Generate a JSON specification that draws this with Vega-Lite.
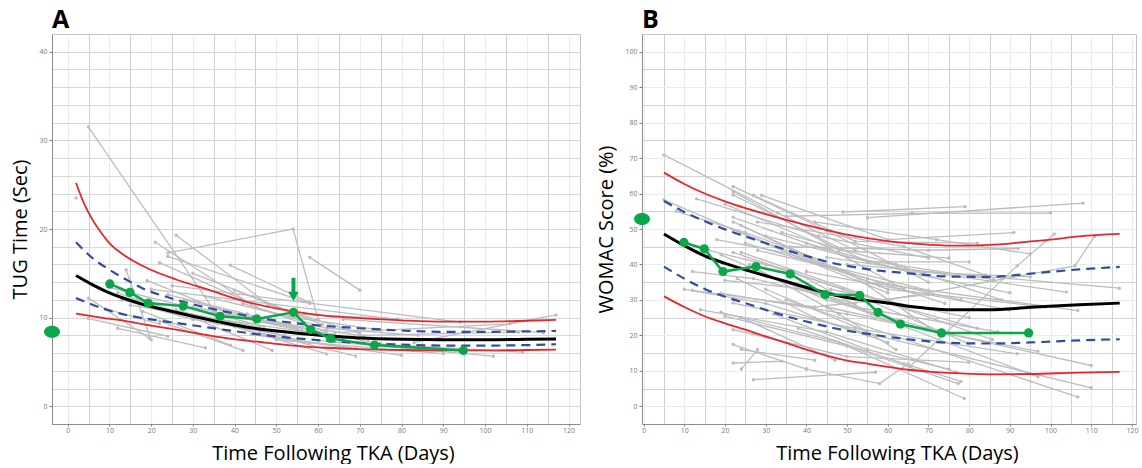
{
"$schema": "https://vega.github.io/schema/vega-lite/v6.json",
"padding": {"left": 10, "top": 7, "right": 0, "bottom": 0},
"spacing": 15,
"config": {
 "view": {"stroke": "#c4c4c4", "strokeWidth": 1},
 "axis": {"labelFont": "Open Sans", "labelFontSize": 7, "labelColor": "#7a7a7a", "tickColor": "#7a7a7a", "tickSize": 3, "labelPadding": 2, "domainColor": "#8c8c8c", "titleFont": "Open Sans", "titleFontWeight": "normal", "titleColor": "#000000", "titleFontSize": 20},
 "title": {"font": "Open Sans", "fontWeight": "bold", "fontSize": 25, "anchor": "start", "frame": "group", "baseline": "alphabetic", "offset": 1, "color": "#000000"}
},
"datasets": {
 "grayA": [
  {"id":"A1","x":5,"y":31.5},{"id":"A1","x":36,"y":10.2},
  {"id":"A2","x":2,"y":23.5},
  {"id":"A3","x":24,"y":17.3},{"id":"A3","x":54,"y":20},{"id":"A3","x":60,"y":9.8},
  {"id":"A4","x":26,"y":19.3},{"id":"A4","x":48,"y":11.5},{"id":"A4","x":70,"y":8.2},
  {"id":"A5","x":58,"y":16.8},{"id":"A5","x":70,"y":13.1},
  {"id":"A6","x":21,"y":18.5},{"id":"A6","x":45,"y":11.2},{"id":"A6","x":62,"y":8.4},
  {"id":"A7","x":39,"y":15.9},{"id":"A7","x":58,"y":11.7},
  {"id":"A8","x":30,"y":15.0},{"id":"A8","x":55,"y":10.4},{"id":"A8","x":79,"y":9.85},
  {"id":"A9","x":14,"y":15.4},{"id":"A9","x":20,"y":7.5},
  {"id":"A10","x":5,"y":12.2},{"id":"A10","x":19.5,"y":7.7},
  {"id":"A11","x":5,"y":9.9},{"id":"A11","x":24,"y":7.9},
  {"id":"A12","x":24,"y":16.9},{"id":"A12","x":58,"y":11.6},
  {"id":"A13","x":12,"y":8.8},{"id":"A13","x":33,"y":6.6},
  {"id":"A14","x":22,"y":9.6},{"id":"A14","x":42,"y":6.3},
  {"id":"A15","x":28,"y":10.4},{"id":"A15","x":49,"y":6.3},
  {"id":"A16","x":40,"y":9.0},{"id":"A16","x":62,"y":5.9},
  {"id":"A17","x":46,"y":8.3},{"id":"A17","x":69,"y":5.65},
  {"id":"A18","x":83,"y":7.2},{"id":"A18","x":117,"y":10.3},
  {"id":"A19","x":20,"y":13.2},{"id":"A19","x":79,"y":9.8},
  {"id":"A20","x":25,"y":13.6},{"id":"A20","x":94,"y":9.5},
  {"id":"A21","x":64,"y":8.3},{"id":"A21","x":106,"y":9.3},
  {"id":"A22","x":70,"y":8.0},{"id":"A22","x":108,"y":8.35},
  {"id":"A23","x":60,"y":7.4},{"id":"A23","x":102,"y":5.65},
  {"id":"A24","x":75,"y":7.0},{"id":"A24","x":109,"y":6.1},
  {"id":"A25","x":50,"y":7.5},{"id":"A25","x":90,"y":5.95},
  {"id":"A26","x":44,"y":8.1},{"id":"A26","x":80,"y":5.75},
  {"id":"A27","x":66,"y":9.8},{"id":"A27","x":114,"y":8.3},
  {"id":"A28","x":40,"y":13.1},{"id":"A28","x":61,"y":9.2},
  {"id":"A29","x":19,"y":14.2},{"id":"A29","x":38,"y":10.6},{"id":"A29","x":55,"y":8.8},
  {"id":"A30","x":13,"y":12.0},{"id":"A30","x":30,"y":9.8},{"id":"A30","x":52,"y":8.0},
  {"id":"A31","x":17,"y":12.0},{"id":"A31","x":36,"y":9.3},
  {"id":"A32","x":22,"y":16.2},{"id":"A32","x":44,"y":11.6},
  {"id":"A33","x":10,"y":13.4},{"id":"A33","x":28,"y":11.3},{"id":"A33","x":47,"y":9.0},
  {"id":"A34","x":15,"y":11.4},{"id":"A34","x":32,"y":10.1},{"id":"A34","x":60,"y":8.2},
  {"id":"A35","x":18,"y":10.7},{"id":"A35","x":39,"y":6.9},
  {"id":"A36","x":24,"y":12.6},{"id":"A36","x":43,"y":10.4},{"id":"A36","x":66,"y":7.7},
  {"id":"A37","x":28,"y":12.0},{"id":"A37","x":50,"y":9.4},{"id":"A37","x":72,"y":7.3},
  {"id":"A38","x":30,"y":11.2},{"id":"A38","x":56,"y":8.6},
  {"id":"A39","x":33,"y":12.4},{"id":"A39","x":53,"y":10.1},{"id":"A39","x":75,"y":8.6},
  {"id":"A40","x":35,"y":10.6},{"id":"A40","x":64,"y":7.8},
  {"id":"A41","x":20,"y":11.3},{"id":"A41","x":46,"y":8.9},
  {"id":"A42","x":26,"y":10.9},{"id":"A42","x":47,"y":8.0},{"id":"A42","x":69,"y":6.5},
  {"id":"A43","x":12,"y":12.8},{"id":"A43","x":25,"y":10.6},
  {"id":"A44","x":9,"y":11.0},{"id":"A44","x":22,"y":9.3},
  {"id":"A45","x":36,"y":9.9},{"id":"A45","x":58,"y":7.1},
  {"id":"A46","x":42,"y":11.6},{"id":"A46","x":62,"y":8.8},{"id":"A46","x":84,"y":8.0},
  {"id":"A47","x":48,"y":9.6},{"id":"A47","x":71,"y":7.9}
 ],
 "redA": [
  {"b":"hi","x":2,"y":25.2},{"b":"hi","x":4,"y":22.8},{"b":"hi","x":6,"y":21.0},{"b":"hi","x":8,"y":19.6},{"b":"hi","x":10,"y":18.4},{"b":"hi","x":14,"y":16.9},{"b":"hi","x":19,"y":15.6},{"b":"hi","x":26,"y":14.3},{"b":"hi","x":34,"y":13.1},{"b":"hi","x":42,"y":11.9},{"b":"hi","x":54,"y":10.7},{"b":"hi","x":62,"y":10.2},{"b":"hi","x":70,"y":9.95},{"b":"hi","x":80,"y":9.7},{"b":"hi","x":90,"y":9.55},{"b":"hi","x":100,"y":9.55},{"b":"hi","x":110,"y":9.65},{"b":"hi","x":117,"y":9.75},
  {"b":"lo","x":2,"y":10.45},{"b":"lo","x":8,"y":10.0},{"b":"lo","x":14,"y":9.6},{"b":"lo","x":20,"y":9.1},{"b":"lo","x":26,"y":8.65},{"b":"lo","x":32,"y":8.15},{"b":"lo","x":38,"y":7.7},{"b":"lo","x":46,"y":7.25},{"b":"lo","x":54,"y":6.85},{"b":"lo","x":62,"y":6.6},{"b":"lo","x":70,"y":6.45},{"b":"lo","x":80,"y":6.35},{"b":"lo","x":90,"y":6.3},{"b":"lo","x":100,"y":6.3},{"b":"lo","x":110,"y":6.35},{"b":"lo","x":117,"y":6.4}
 ],
 "blueA": [
  {"b":"hi","x":2,"y":18.5},{"b":"hi","x":6,"y":16.7},{"b":"hi","x":10,"y":15.4},{"b":"hi","x":14,"y":14.3},{"b":"hi","x":18,"y":13.3},{"b":"hi","x":24,"y":12.3},{"b":"hi","x":30,"y":11.5},{"b":"hi","x":36,"y":10.85},{"b":"hi","x":42,"y":10.3},{"b":"hi","x":48,"y":9.8},{"b":"hi","x":54,"y":9.4},{"b":"hi","x":62,"y":9.05},{"b":"hi","x":70,"y":8.8},{"b":"hi","x":80,"y":8.55},{"b":"hi","x":90,"y":8.4},{"b":"hi","x":100,"y":8.4},{"b":"hi","x":110,"y":8.45},{"b":"hi","x":117,"y":8.5},
  {"b":"lo","x":2,"y":12.2},{"b":"lo","x":8,"y":11.1},{"b":"lo","x":14,"y":10.3},{"b":"lo","x":20,"y":9.8},{"b":"lo","x":26,"y":9.4},{"b":"lo","x":32,"y":9.0},{"b":"lo","x":38,"y":8.6},{"b":"lo","x":46,"y":8.1},{"b":"lo","x":54,"y":7.7},{"b":"lo","x":62,"y":7.4},{"b":"lo","x":70,"y":7.15},{"b":"lo","x":80,"y":6.95},{"b":"lo","x":90,"y":6.85},{"b":"lo","x":100,"y":6.85},{"b":"lo","x":110,"y":6.9},{"b":"lo","x":117,"y":7.0}
 ],
 "blackA": [
  {"x":2,"y":14.75},{"x":6,"y":13.7},{"x":10,"y":12.8},{"x":14,"y":12.1},{"x":18,"y":11.5},{"x":24,"y":10.8},{"x":30,"y":10.15},{"x":36,"y":9.55},{"x":42,"y":9.0},{"x":48,"y":8.6},{"x":54,"y":8.3},{"x":62,"y":7.95},{"x":70,"y":7.7},{"x":80,"y":7.55},{"x":90,"y":7.5},{"x":100,"y":7.5},{"x":110,"y":7.55},{"x":117,"y":7.6}
 ],
 "greenA": [
  {"x":10.1,"y":13.8},{"x":14.9,"y":12.85},{"x":19.3,"y":11.65},{"x":27.7,"y":11.3},{"x":36.5,"y":10.15},{"x":45.3,"y":9.85},{"x":54.1,"y":10.6},{"x":58.2,"y":8.65},{"x":63,"y":7.65},{"x":73.5,"y":6.9},{"x":94.8,"y":6.3}
 ],
 "baseA": [{"x":-3.75,"y":8.4}],
 "arrowA": [{"x":54.1,"y":14.5,"y2":12.8}],
 "headA": [{"x":54.1,"y":12.4}],
 "grayB": [
  {"id":"B1","x":5,"y":70.9},{"id":"B1","x":33,"y":54.5},{"id":"B1","x":52,"y":44},
  {"id":"B2","x":5,"y":58.2},{"id":"B2","x":38,"y":42},{"id":"B2","x":60,"y":32},
  {"id":"B3","x":13,"y":58.5},{"id":"B3","x":43,"y":48},{"id":"B3","x":70,"y":41.8},
  {"id":"B4","x":22,"y":62},{"id":"B4","x":45,"y":49.5},{"id":"B4","x":70,"y":35},
  {"id":"B5","x":22,"y":60.5},{"id":"B5","x":48,"y":44},{"id":"B5","x":75,"y":41.8},
  {"id":"B6","x":22,"y":59.6},{"id":"B6","x":55,"y":40.7},{"id":"B6","x":80,"y":40.7},
  {"id":"B7","x":27,"y":59.5},{"id":"B7","x":52,"y":46.5},{"id":"B7","x":82,"y":46},
  {"id":"B8","x":29,"y":59.5},{"id":"B8","x":60,"y":47},{"id":"B8","x":91,"y":49},
  {"id":"B9","x":49,"y":54.8},{"id":"B9","x":79,"y":56.3},
  {"id":"B10","x":55,"y":53.2},{"id":"B10","x":108,"y":57.3},
  {"id":"B11","x":35,"y":53.6},{"id":"B11","x":66,"y":54.4},{"id":"B11","x":100,"y":54.5},
  {"id":"B12","x":22,"y":53.3},{"id":"B12","x":50,"y":42},{"id":"B12","x":86,"y":35.7},
  {"id":"B13","x":22,"y":52},{"id":"B13","x":47,"y":39},{"id":"B13","x":74,"y":29},
  {"id":"B14","x":24,"y":51},{"id":"B14","x":44,"y":40},{"id":"B14","x":70,"y":32.7},
  {"id":"B15","x":22,"y":49.8},{"id":"B15","x":60,"y":33},{"id":"B15","x":98.7,"y":28},
  {"id":"B16","x":19,"y":42.7},{"id":"B16","x":45,"y":30},{"id":"B16","x":70,"y":22},
  {"id":"B17","x":22,"y":43.4},{"id":"B17","x":49,"y":33},{"id":"B17","x":80,"y":17.6},
  {"id":"B18","x":24,"y":43.4},{"id":"B18","x":58,"y":30},{"id":"B18","x":85.7,"y":18.8},
  {"id":"B19","x":19,"y":31.9},{"id":"B19","x":50,"y":26},{"id":"B19","x":96.9,"y":15.5},
  {"id":"B20","x":22,"y":29.1},{"id":"B20","x":52,"y":22},{"id":"B20","x":91.8,"y":14.8},
  {"id":"B21","x":14,"y":27.2},{"id":"B21","x":45,"y":21},{"id":"B21","x":76.8,"y":9.6},
  {"id":"B22","x":12,"y":32.7},{"id":"B22","x":42,"y":28},{"id":"B22","x":70,"y":31.5},
  {"id":"B23","x":19,"y":26.5},{"id":"B23","x":48,"y":18},{"id":"B23","x":78.8,"y":2.2},
  {"id":"B24","x":20,"y":25.4},{"id":"B24","x":50,"y":17},{"id":"B24","x":77.3,"y":6.4},
  {"id":"B25","x":22,"y":21.6},{"id":"B25","x":50,"y":14},{"id":"B25","x":79.9,"y":12.4},
  {"id":"B26","x":22,"y":17.4},{"id":"B26","x":40,"y":10.5},
  {"id":"B27","x":24,"y":16},{"id":"B27","x":42,"y":13},
  {"id":"B28","x":22,"y":12.2},{"id":"B28","x":34,"y":12.7},
  {"id":"B29","x":24,"y":10.5},{"id":"B29","x":28,"y":16},
  {"id":"B30","x":27,"y":7.5},{"id":"B30","x":57,"y":9.6},
  {"id":"B31","x":40,"y":10.5},{"id":"B31","x":58,"y":6.4},{"id":"B31","x":65,"y":12},
  {"id":"B32","x":65.5,"y":11.3},{"id":"B32","x":91.8,"y":39.6},{"id":"B32","x":100.9,"y":48.6},
  {"id":"B33","x":60,"y":30},{"id":"B33","x":106,"y":39.6},{"id":"B33","x":110.8,"y":47.9},
  {"id":"B34","x":50,"y":40},{"id":"B34","x":116.9,"y":33.3},
  {"id":"B35","x":45,"y":42},{"id":"B35","x":103.9,"y":32.2},
  {"id":"B36","x":55,"y":35},{"id":"B36","x":106.7,"y":27},
  {"id":"B37","x":40,"y":38},{"id":"B37","x":89.8,"y":27.2},
  {"id":"B38","x":35,"y":35},{"id":"B38","x":96.9,"y":8.3},
  {"id":"B39","x":45,"y":28},{"id":"B39","x":110,"y":11.5},
  {"id":"B40","x":50,"y":22},{"id":"B40","x":110,"y":5.2},
  {"id":"B41","x":35,"y":30},{"id":"B41","x":106.7,"y":2.6},
  {"id":"B42","x":30,"y":40},{"id":"B42","x":60,"y":29},{"id":"B42","x":82,"y":22},
  {"id":"B43","x":10,"y":33},{"id":"B43","x":30,"y":29},{"id":"B43","x":55,"y":20},
  {"id":"B44","x":30,"y":48},{"id":"B44","x":65,"y":38},{"id":"B44","x":95,"y":36.5},
  {"id":"B45","x":12,"y":38},{"id":"B45","x":27,"y":36},{"id":"B45","x":52,"y":29},
  {"id":"B46","x":20,"y":35.5},{"id":"B46","x":40,"y":33},{"id":"B46","x":62,"y":24},
  {"id":"B47","x":25,"y":46},{"id":"B47","x":55,"y":36},{"id":"B47","x":78,"y":30},
  {"id":"B48","x":18,"y":47},{"id":"B48","x":36,"y":43},{"id":"B48","x":58,"y":34},
  {"id":"B49","x":28,"y":44},{"id":"B49","x":50,"y":38},{"id":"B49","x":73,"y":20},
  {"id":"B50","x":34,"y":49},{"id":"B50","x":62,"y":40},{"id":"B50","x":88,"y":30},
  {"id":"B51","x":20,"y":57},{"id":"B51","x":45,"y":45},{"id":"B51","x":64,"y":33},
  {"id":"B52","x":8,"y":55},{"id":"B52","x":25,"y":49},{"id":"B52","x":44,"y":41},
  {"id":"B53","x":26,"y":40},{"id":"B53","x":48,"y":26},{"id":"B53","x":62,"y":16},
  {"id":"B54","x":32,"y":26},{"id":"B54","x":55,"y":16},{"id":"B54","x":75,"y":10.5},
  {"id":"B55","x":38,"y":22},{"id":"B55","x":64,"y":12},{"id":"B55","x":78,"y":7},
  {"id":"B56","x":23,"y":36},{"id":"B56","x":42,"y":25},{"id":"B56","x":60,"y":18},
  {"id":"B57","x":30,"y":33},{"id":"B57","x":57,"y":20},
  {"id":"B58","x":24,"y":25},{"id":"B58","x":47,"y":13},
  {"id":"B59","x":36,"y":45},{"id":"B59","x":70,"y":44},{"id":"B59","x":92,"y":44.5},
  {"id":"B60","x":42,"y":52},{"id":"B60","x":72,"y":47},{"id":"B60","x":95,"y":43},
  {"id":"B61","x":16,"y":44},{"id":"B61","x":37,"y":38},{"id":"B61","x":56,"y":26},
  {"id":"B62","x":46,"y":33},{"id":"B62","x":80,"y":25},
  {"id":"B63","x":52,"y":28},{"id":"B63","x":87,"y":21},
  {"id":"B64","x":28,"y":52},{"id":"B64","x":64,"y":45},{"id":"B64","x":84,"y":37},
  {"id":"B65","x":40,"y":46},{"id":"B65","x":68,"y":37},{"id":"B65","x":90,"y":32}
 ],
 "redB": [
  {"b":"hi","x":5,"y":65.9},{"b":"hi","x":10,"y":62.7},{"b":"hi","x":15,"y":60.0},{"b":"hi","x":20,"y":57.8},{"b":"hi","x":25,"y":55.9},{"b":"hi","x":30,"y":54.2},{"b":"hi","x":35,"y":52.6},{"b":"hi","x":40,"y":51.1},{"b":"hi","x":45,"y":49.7},{"b":"hi","x":50,"y":48.4},{"b":"hi","x":55,"y":47.4},{"b":"hi","x":60,"y":46.6},{"b":"hi","x":65,"y":46.0},{"b":"hi","x":70,"y":45.6},{"b":"hi","x":75,"y":45.3},{"b":"hi","x":80,"y":45.3},{"b":"hi","x":85,"y":45.5},{"b":"hi","x":90,"y":45.9},{"b":"hi","x":95,"y":46.5},{"b":"hi","x":100,"y":47.0},{"b":"hi","x":107,"y":47.9},{"b":"hi","x":117,"y":48.6},
  {"b":"lo","x":5,"y":31.0},{"b":"lo","x":10,"y":28.0},{"b":"lo","x":15,"y":25.4},{"b":"lo","x":20,"y":23.4},{"b":"lo","x":25,"y":21.6},{"b":"lo","x":30,"y":19.7},{"b":"lo","x":35,"y":17.9},{"b":"lo","x":40,"y":16.0},{"b":"lo","x":45,"y":14.3},{"b":"lo","x":50,"y":12.9},{"b":"lo","x":55,"y":12.0},{"b":"lo","x":60,"y":11.1},{"b":"lo","x":65,"y":10.3},{"b":"lo","x":70,"y":9.8},{"b":"lo","x":75,"y":9.4},{"b":"lo","x":85,"y":9.0},{"b":"lo","x":95,"y":9.1},{"b":"lo","x":107,"y":9.5},{"b":"lo","x":117,"y":9.7}
 ],
 "blueB": [
  {"b":"hi","x":5,"y":57.9},{"b":"hi","x":10,"y":54.8},{"b":"hi","x":15,"y":52.2},{"b":"hi","x":20,"y":49.9},{"b":"hi","x":25,"y":47.9},{"b":"hi","x":30,"y":46.0},{"b":"hi","x":35,"y":44.1},{"b":"hi","x":40,"y":42.4},{"b":"hi","x":45,"y":40.8},{"b":"hi","x":50,"y":39.6},{"b":"hi","x":55,"y":38.7},{"b":"hi","x":60,"y":38.0},{"b":"hi","x":65,"y":37.5},{"b":"hi","x":70,"y":37.0},{"b":"hi","x":75,"y":36.6},{"b":"hi","x":85,"y":36.5},{"b":"hi","x":95,"y":37.4},{"b":"hi","x":107,"y":38.6},{"b":"hi","x":117,"y":39.3},
  {"b":"lo","x":5,"y":39.4},{"b":"lo","x":10,"y":36.0},{"b":"lo","x":15,"y":33.1},{"b":"lo","x":20,"y":30.9},{"b":"lo","x":25,"y":29.1},{"b":"lo","x":30,"y":27.2},{"b":"lo","x":35,"y":25.4},{"b":"lo","x":40,"y":23.9},{"b":"lo","x":45,"y":22.5},{"b":"lo","x":50,"y":21.3},{"b":"lo","x":55,"y":20.4},{"b":"lo","x":60,"y":19.6},{"b":"lo","x":65,"y":18.9},{"b":"lo","x":70,"y":18.3},{"b":"lo","x":75,"y":17.9},{"b":"lo","x":85,"y":17.7},{"b":"lo","x":95,"y":18.0},{"b":"lo","x":107,"y":18.6},{"b":"lo","x":117,"y":18.9}
 ],
 "blackB": [
  {"x":5,"y":48.6},{"x":10,"y":45.3},{"x":15,"y":42.4},{"x":20,"y":40.3},{"x":25,"y":38.5},{"x":30,"y":36.8},{"x":35,"y":35.2},{"x":40,"y":33.5},{"x":45,"y":31.9},{"x":50,"y":30.7},{"x":55,"y":29.8},{"x":60,"y":29.1},{"x":65,"y":28.2},{"x":70,"y":27.6},{"x":75,"y":27.2},{"x":85,"y":27.2},{"x":95,"y":27.9},{"x":107,"y":28.6},{"x":117,"y":29.1}
 ],
 "greenB": [
  {"x":9.9,"y":46.2},{"x":14.9,"y":44.4},{"x":19.5,"y":38.0},{"x":27.6,"y":39.4},{"x":36,"y":37.3},{"x":44.6,"y":31.5},{"x":53.1,"y":31.3},{"x":57.6,"y":26.5},{"x":63.1,"y":23.2},{"x":73.2,"y":20.7},{"x":94.6,"y":20.7}
 ],
 "baseB": [{"x":-0.4,"y":52.8}]
},
"hconcat": [
 {
  "width": 528, "height": 390,
  "title": {"text": "A"},
  "encoding": {
   "x": {"field": "x", "type": "quantitative", "scale": {"domain": [-3.75, 122.75], "nice": false, "zero": false},
    "axis": {"title": "Time Following TKA (Days)", "titleX": 281, "titlePadding": 10, "labelPadding": 0, "tickSize": 2,
     "values": [0,5,10,15,20,25,30,35,40,45,50,55,60,65,70,75,80,85,90,95,100,105,110,115,120],
     "labelExpr": "datum.value % 10 === 0 ? datum.label : ''",
     "tickOpacity": {"condition": {"test": "datum.value % 10 === 0", "value": 1}, "value": 0},
     "gridColor": {"condition": {"test": "datum.value % 10 === 0", "value": "#ebebeb"}, "value": "#cfcfcf"}}},
   "y": {"field": "y", "type": "quantitative", "scale": {"domain": [-2, 42], "nice": false, "zero": false},
    "axis": {"title": "TUG Time (Sec)", "titlePadding": 8,
     "values": [0,2,4,6,8,10,12,14,16,18,20,22,24,26,28,30,32,34,36,38,40],
     "labelExpr": "datum.value % 10 === 0 ? datum.label : ''",
     "tickOpacity": {"condition": {"test": "datum.value % 10 === 0", "value": 1}, "value": 0},
     "gridColor": "#d9d9d9"}}
  },
  "layer": [
   {"data": {"name": "grayA"}, "mark": {"type": "line", "color": "#bdbdbd", "strokeWidth": 1.3}, "encoding": {"detail": {"field": "id"}}},
   {"data": {"name": "grayA"}, "mark": {"type": "point", "filled": true, "color": "#bdbdbd", "size": 12, "opacity": 1}},
   {"data": {"name": "redA"}, "mark": {"type": "line", "color": "#e8262a", "strokeWidth": 1.8, "interpolate": "monotone"}, "encoding": {"detail": {"field": "b"}}},
   {"data": {"name": "blueA"}, "mark": {"type": "line", "color": "#2f4ea0", "strokeWidth": 2.2, "strokeDash": [9, 6], "interpolate": "monotone"}, "encoding": {"detail": {"field": "b"}}},
   {"data": {"name": "blackA"}, "mark": {"type": "line", "color": "#000000", "strokeWidth": 3, "interpolate": "monotone"}},
   {"data": {"name": "greenA"}, "mark": {"type": "line", "color": "#0aa64a", "strokeWidth": 2.5}},
   {"data": {"name": "greenA"}, "mark": {"type": "point", "filled": true, "color": "#0aa64a", "size": 85, "opacity": 1}},
   {"data": {"name": "arrowA"}, "mark": {"type": "rule", "color": "#0aa64a", "strokeWidth": 4}, "encoding": {"y2": {"field": "y2"}}},
   {"data": {"name": "headA"}, "mark": {"type": "point", "shape": "triangle-down", "filled": true, "color": "#0aa64a", "size": 110, "opacity": 1}},
   {"data": {"name": "baseA"}, "mark": {"type": "point", "shape": "M-1,0A1,0.75,0,1,1,1,0A1,0.75,0,1,1,-1,0Z", "filled": true, "color": "#0aa64a", "size": 256, "opacity": 1}}
  ]
 },
 {
  "width": 494, "height": 390,
  "title": {"text": "B"},
  "encoding": {
   "x": {"field": "x", "type": "quantitative", "scale": {"domain": [-0.4, 121], "nice": false, "zero": false},
    "axis": {"title": "Time Following TKA (Days)", "titleX": 255, "titlePadding": 10, "labelPadding": 0, "tickSize": 2,
     "values": [0,5,10,15,20,25,30,35,40,45,50,55,60,65,70,75,80,85,90,95,100,105,110,115,120],
     "labelExpr": "datum.value % 10 === 0 ? datum.label : ''",
     "tickOpacity": {"condition": {"test": "datum.value % 10 === 0", "value": 1}, "value": 0},
     "gridColor": {"condition": {"test": "datum.value % 10 === 0", "value": "#ebebeb"}, "value": "#cfcfcf"}}},
   "y": {"field": "y", "type": "quantitative", "scale": {"domain": [-5, 105], "nice": false, "zero": false},
    "axis": {"title": "WOMAC Score (%)", "titlePadding": 8,
     "values": [0,5,10,15,20,25,30,35,40,45,50,55,60,65,70,75,80,85,90,95,100],
     "labelExpr": "datum.value % 10 === 0 ? datum.label : ''",
     "tickOpacity": {"condition": {"test": "datum.value % 10 === 0", "value": 1}, "value": 0},
     "gridColor": {"condition": {"test": "datum.value % 10 === 0", "value": "#ebebeb"}, "value": "#d3d3d3"}}}
  },
  "layer": [
   {"data": {"name": "grayB"}, "mark": {"type": "line", "color": "#bdbdbd", "strokeWidth": 1.3}, "encoding": {"detail": {"field": "id"}}},
   {"data": {"name": "grayB"}, "mark": {"type": "point", "filled": true, "color": "#bdbdbd", "size": 12, "opacity": 1}},
   {"data": {"name": "redB"}, "mark": {"type": "line", "color": "#e8262a", "strokeWidth": 1.8, "interpolate": "monotone"}, "encoding": {"detail": {"field": "b"}}},
   {"data": {"name": "blueB"}, "mark": {"type": "line", "color": "#2f4ea0", "strokeWidth": 2.2, "strokeDash": [9, 6], "interpolate": "monotone"}, "encoding": {"detail": {"field": "b"}}},
   {"data": {"name": "blackB"}, "mark": {"type": "line", "color": "#000000", "strokeWidth": 3, "interpolate": "monotone"}},
   {"data": {"name": "greenB"}, "mark": {"type": "line", "color": "#0aa64a", "strokeWidth": 2.5}},
   {"data": {"name": "greenB"}, "mark": {"type": "point", "filled": true, "color": "#0aa64a", "size": 85, "opacity": 1}},
   {"data": {"name": "baseB"}, "mark": {"type": "point", "shape": "M-1,0A1,0.75,0,1,1,1,0A1,0.75,0,1,1,-1,0Z", "filled": true, "color": "#0aa64a", "size": 256, "opacity": 1}}
  ]
 }
]
}
